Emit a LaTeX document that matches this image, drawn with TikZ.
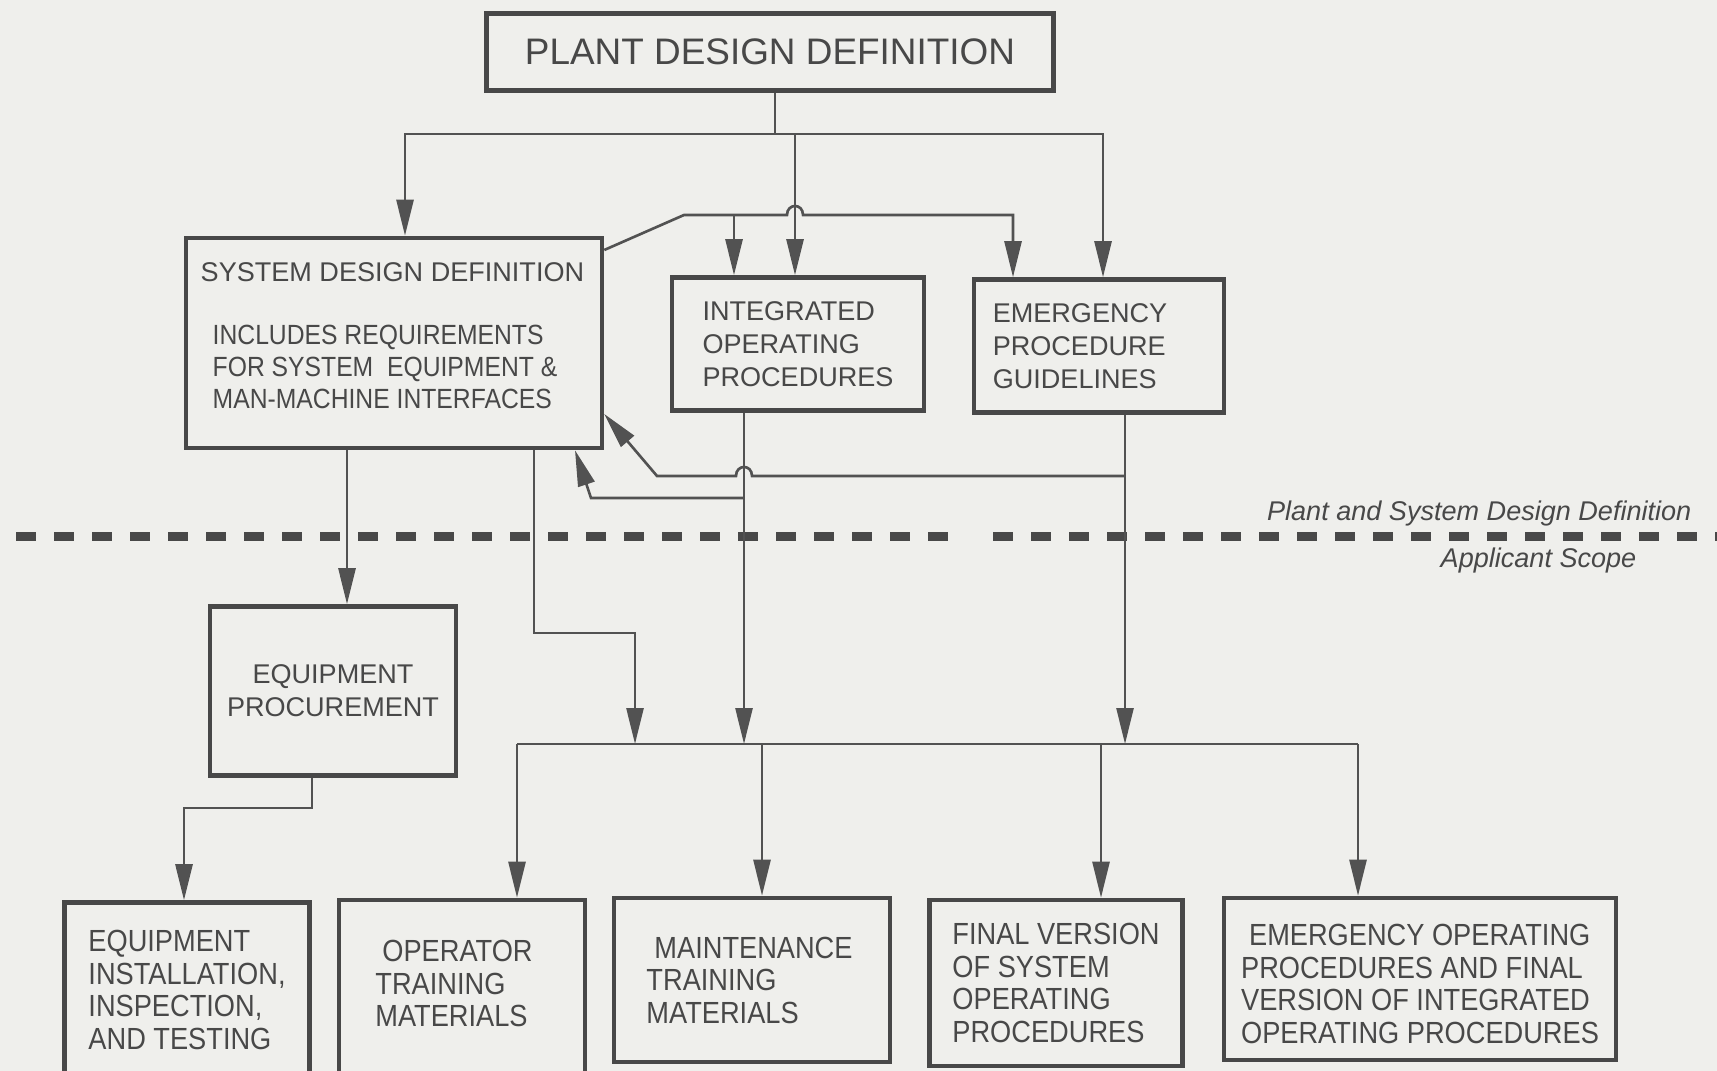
\documentclass[tikz,border=0pt]{standalone}
\usepackage{fontspec}
\setmainfont{Liberation Sans}
\newfontfamily\narrowsans[FakeStretch=0.89]{Liberation Sans}
\usetikzlibrary{arrows.meta}
\definecolor{paper}{RGB}{239,239,236}
\definecolor{ink}{RGB}{72,72,72}
\definecolor{linegray}{RGB}{82,82,82}

\begin{document}
\begin{tikzpicture}[x=0.1mm, y=-0.1mm,
    box/.style={draw=ink, line width=1.3pt, text=ink, inner sep=0pt, align=left,
      font=\fontsize{7.7}{9.4}\selectfont},
    lowbox/.style={box, font=\narrowsans\fontsize{8.7}{9.25}\selectfont},
    wire/.style={draw=linegray, line width=0.75pt},
    flow/.style={wire, -{Triangle[length=3.6mm, width=1.7mm]}},
    scope label/.style={text=ink, inner sep=0pt, font=\itshape\fontsize{7.7}{9}\selectfont}]
            % page
            \fill[paper] (0,0) rectangle (1717,1071);
            \useasboundingbox (0,0) rectangle (1717,1071);
            % boundary between the two scopes
            \draw[ink, line width=0.9mm, dash pattern=on 2mm off 1.8mm] (16,537) -- (955,537);
            \draw[ink, line width=0.9mm, dash pattern=on 2mm off 1.8mm] (993,537) -- (1717,537);
            \node[scope label, anchor=east] (upper) at (1692,514) {Plant and System Design Definition};
            \node[scope label, anchor=east] (lower) at (1637,561) {Applicant Scope};
            % upper boxes
            \node[box, align=center, minimum width=56.7mm, minimum height=7.7mm,
              font=\fontsize{10.5}{12}\selectfont] (plant) at (770,52) {PLANT DESIGN DEFINITION};
            \node[box, minimum width=41.6mm, minimum height=21mm] (sdd) at (394,343) {};
            \node[text=ink, inner sep=0pt, align=left, anchor=west,
              font=\fontsize{7.7}{9.1}\selectfont] (sddtext) at (212,336)
              {\hspace*{-1.2mm}SYSTEM DESIGN DEFINITION\\[3.1mm]
               {\narrowsans\fontsize{7.9}{9.1}\selectfont INCLUDES REQUIREMENTS}\\
               {\narrowsans\fontsize{7.9}{9.1}\selectfont FOR SYSTEM\ \ EQUIPMENT \&}\\
               {\narrowsans\fontsize{7.9}{9.1}\selectfont MAN-MACHINE INTERFACES}};
            \node[box, minimum width=25.2mm, minimum height=13.3mm] (iop) at (798,344)
              {INTEGRATED\\OPERATING\\PROCEDURES};
            \node[box, minimum width=25mm, minimum height=13.3mm] (epg) at (1099,346)
              {EMERGENCY\hspace*{3.8mm}\\PROCEDURE\hspace*{3.8mm}\\GUIDELINES\hspace*{3.8mm}};
            % lower boxes
            \node[box, align=center, minimum width=24.6mm, minimum height=16.9mm] (proc) at (333,691)
              {EQUIPMENT\\PROCUREMENT};
            \node[lowbox, minimum width=24.5mm, minimum height=17.5mm] (inst) at (187,990)
              {EQUIPMENT\\INSTALLATION,\\INSPECTION,\\AND TESTING};
            \node[lowbox, minimum width=24.6mm, minimum height=17.8mm] (opt) at (462,989)
              {\hspace*{0.7mm}OPERATOR\hspace*{1.6mm}\\TRAINING\\MATERIALS\rule[-1.1mm]{0pt}{0pt}};
            \node[lowbox, minimum width=27.6mm, minimum height=16.4mm] (mtm) at (752,980)
              {\hspace*{0.8mm}MAINTENANCE\hspace*{0.5mm}\\TRAINING\\MATERIALS};
            \node[lowbox, minimum width=25.3mm, minimum height=16.6mm] (fsop) at (1056,983)
              {FINAL VERSION\\OF SYSTEM\\OPERATING\\PROCEDURES};
            \node[lowbox, minimum width=39.2mm, minimum height=16.2mm] (eop) at (1420,979)
              {\rule{0pt}{3.1mm}\hspace*{0.8mm}EMERGENCY OPERATING\\PROCEDURES AND FINAL\\VERSION OF INTEGRATED\\OPERATING PROCEDURES};
            % knee points
            \coordinate (topbus) at (775,134);
            \coordinate (busleft) at (405,134);
            \coordinate (busright) at (1103,134);
            \coordinate (ffknee) at (684,215);
            \coordinate (lowbus) at (744,744);
            % plant design definition -> upper boxes
            \draw[wire] (plant.south -| topbus) -- (topbus);
            \draw[flow] (topbus) -- (busleft) -- (busleft |- sdd.north);
            \draw[flow] (topbus) -- (busright) -- (busright |- epg.north);
            \draw[flow] (795,134) -- (795,0 |- iop.north);
            % system design definition -> procedures
            \draw[flow] (sdd.east |- 0,250) -- (ffknee) -- (787,215)
              .. controls (787,203) and (803,203) .. (803,215) -- (1013,215) -- (1013,0 |- epg.north);
            \draw[flow] (734,215) -- (734,0 |- iop.north);
            % procedures -> lower bus
            \draw[flow] (744,0 |- iop.south) -- (lowbus);
            \draw[flow] (1125,0 |- epg.south) -- (1125,744);
            % feedback to system design definition
            \draw[flow] (1125,476) -- (752,476) .. controls (752,464) and (736,464) .. (736,476)
              -- (657,476) -- (sdd.east |- 0,414);
            \draw[flow] (744,498) -- (591,498) -- (575,0 |- sdd.south);
            % system design definition -> applicant scope
            \draw[flow] (347,0 |- sdd.south) -- (347,0 |- proc.north);
            \draw[flow] (534,0 |- sdd.south) -- (534,633) -- (635,633) -- (635,744);
            \draw[flow] (312,0 |- proc.south) -- (312,808) -- (184,808) -- (184,0 |- inst.north);
            % lower bus -> final products
            \draw[wire] (517,744) -- (1358,744);
            \draw[flow] (517,744) -- (517,0 |- opt.north);
            \draw[flow] (762,744) -- (762,0 |- mtm.north);
            \draw[flow] (1101,744) -- (1101,0 |- fsop.north);
            \draw[flow] (1358,744) -- (1358,0 |- eop.north);
\end{tikzpicture}
\end{document}
